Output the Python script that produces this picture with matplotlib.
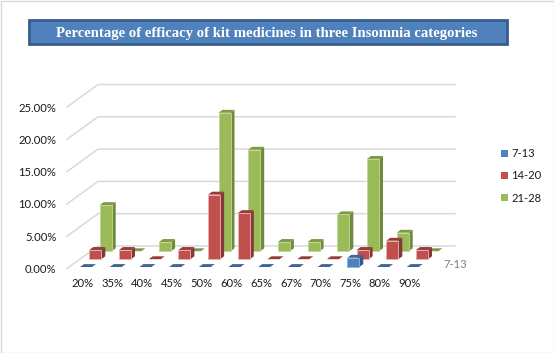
import numpy as np
import matplotlib
matplotlib.use("Agg")
import matplotlib.pyplot as plt
from matplotlib.patches import Rectangle, Patch, Polygon

categories = ["20%", "35%", "40%", "45%", "50%", "60%", "65%", "67%", "70%", "75%", "80%", "90%"]
series_names = ["7-13", "14-20", "21-28"]
values_7_13 = [0, 0, 0, 0, 0, 0, 0, 0, 0, 1.43, 0, 0]
values_14_20 = [1.43, 1.43, 0, 1.43, 10.0, 7.14, 0, 0, 0, 1.43, 2.86, 1.43]
values_21_28 = [7.14, 0, 1.43, 0, 21.43, 15.71, 1.43, 1.43, 5.71, 14.29, 2.86, 0]
y_ticks = [0, 5, 10, 15, 20, 25]
y_labels = ["0.00%", "5.00%", "10.00%", "15.00%", "20.00%", "25.00%"]
title = "Percentage of efficacy of kit medicines in three Insomnia categories"

W, H = 554, 353
FONT = "Lato"
FS = 8.1
fig = plt.figure(figsize=(W / 100, H / 100), dpi=100, facecolor="white")

# axes frame in pixels
L, R, T, B = 67.0, 455.0, 107.0, 268.5
ax = fig.add_axes([L / W, 1 - B / H, (R - L) / W, (B - T) / H])
PXX = 29.7   # px per category
PXY = (B - T) / 25.0  # px per percent
X0 = (83 - L) / PXX
ax.set_xlim(-X0, (R - L) / PXX - X0)
ax.set_ylim(0, 25)
for s in ax.spines.values():
    s.set_visible(False)
ax.patch.set_visible(False)
ax.set_xticks(range(len(categories)), categories, fontname=FONT, fontsize=FS, color="#1a1a1a")
ax.set_yticks(y_ticks, y_labels, fontname=FONT, fontsize=FS, color="#1a1a1a")
ax.tick_params(axis="both", length=0)
ax.tick_params(axis="x", pad=6.8)
ax.tick_params(axis="y", pad=7.6)

def dx(p):
    return p / PXX

def dy(p):
    return p / PXY

# walls / gridlines
WALL_X, WALL_Y = 31.0, 22.5
GRID = "#d9d9d9"
x_left = ax.get_xlim()[0]
x_right = ax.get_xlim()[1]
for v in y_ticks:
    ax.plot([x_left, x_left + dx(WALL_X), x_right],
            [v, v + dy(WALL_Y), v + dy(WALL_Y)],
            color=GRID, lw=1.1, clip_on=False, zorder=1, solid_joinstyle="miter")

BAR_W, SIDE_X, SIDE_Y = 12.0, 4.0, 2.9
rows = [
    (values_21_28, 16.7, 17.3, "#9BBB59", "#6F8A3C", "#7C9A42", "#c3d69b"),
    (values_14_20, 6.3, 9.3, "#C0504D", "#873735", "#943C3A", "#e6b3b1"),
    (values_7_13, -3.0, 1.5, "#4F81BD", "#34598A", "#3D6697", "#8fb0d8"),
]
z = 2
for vals, xoff, yoff, face, side, top, edge in rows:
    base = dy(yoff)
    for i, v in reversed(list(enumerate(vals))):
        x = i + dx(xoff)
        w = dx(BAR_W)
        top_y = base + v
        ax.add_patch(Polygon([(x + w, base), (x + w + dx(SIDE_X), base + dy(SIDE_Y)),
                              (x + w + dx(SIDE_X), top_y + dy(SIDE_Y)), (x + w, top_y)],
                             closed=True, fc=side, ec="none", clip_on=False, zorder=z))
        ax.add_patch(Polygon([(x, top_y), (x + w, top_y),
                              (x + w + dx(SIDE_X), top_y + dy(SIDE_Y)), (x + dx(SIDE_X), top_y + dy(SIDE_Y))],
                             closed=True, fc=top, ec="none", clip_on=False, zorder=z))
        ax.bar(x, v, width=w, bottom=base, align="edge", color=face,
               edgecolor=edge if v > 0 else "none", linewidth=0.6, clip_on=False, zorder=z + 0.5)
        z += 1

# depth axis label
ax.text(443.7 / W, 1 - 265 / H, series_names[0], transform=fig.transFigure, fontname=FONT,
        fontsize=FS, color="#7f7f7f", ha="left", va="center")

# legend
handles = [Patch(fc=c, ec="none") for c in ("#4F81BD", "#C0504D", "#9BBB59")]
ax.legend(handles, series_names, loc="upper left", bbox_to_anchor=(500.5 / W, 1 - 148.3 / H),
          bbox_transform=fig.transFigure, frameon=False, borderpad=0, borderaxespad=0,
          prop={"family": FONT, "size": FS}, handlelength=0.66, handleheight=0.66,
          handletextpad=0.3, labelspacing=1.42 * 8.6 / FS - 0.52, labelcolor="#1a1a1a")

# title box
fig.add_artist(Rectangle((29 / W, 1 - 44 / H), 478 / W, 24.5 / H, transform=fig.transFigure,
                         fc="#4F81BD", ec="#385D8A", lw=2.0))
fig.text(266.5 / W, 1 - 33 / H, title, fontname="Liberation Serif", fontweight="bold",
         fontsize=10.64, color="white", ha="center", va="center")

# outer border
fig.add_artist(Rectangle((1 / W, 0.5 / H), (W - 1.5) / W, (H - 1) / H, transform=fig.transFigure,
                         fc="none", ec="#d9d9d9", lw=1.0))

fig.savefig("out.png", dpi=100, facecolor="white")
